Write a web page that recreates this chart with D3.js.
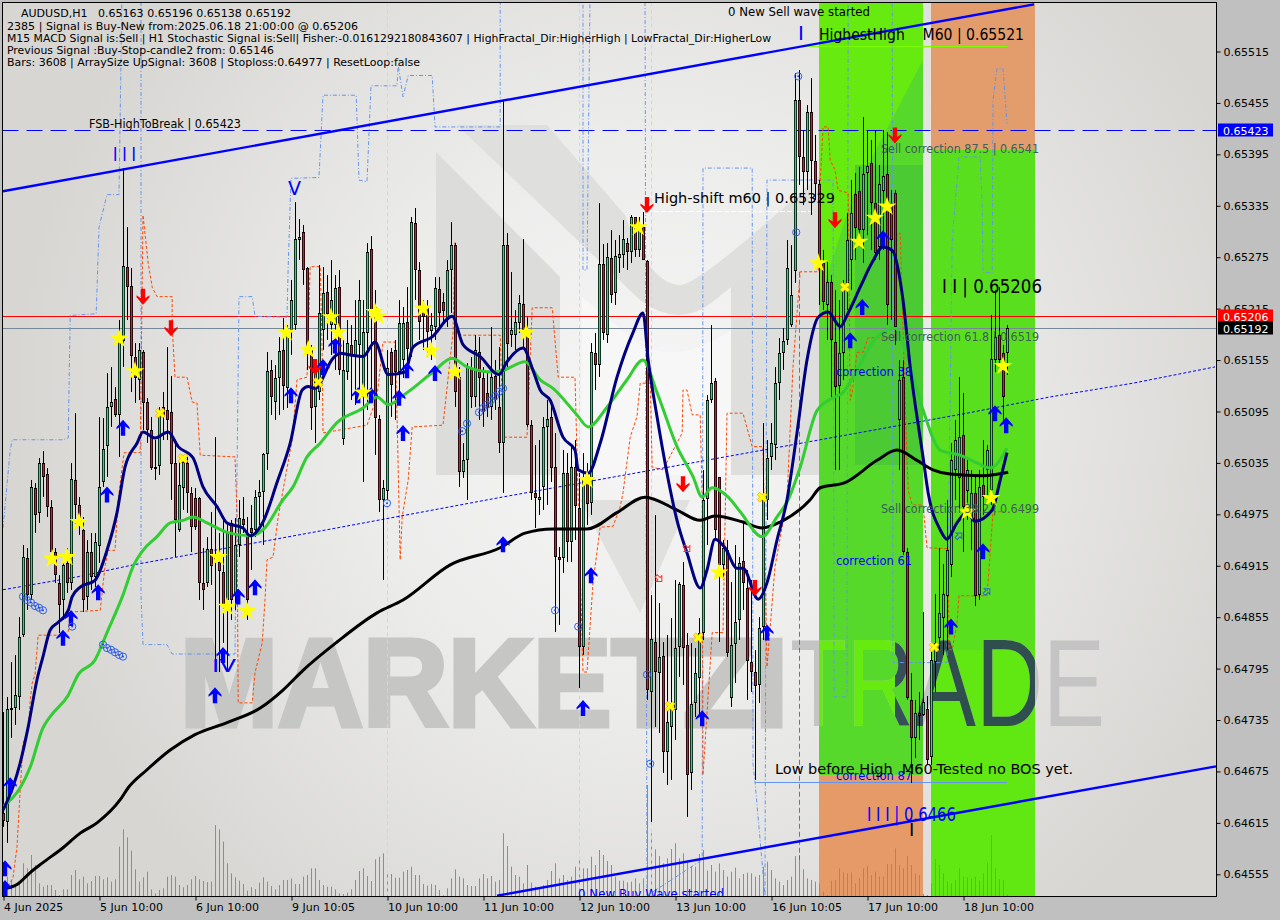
<!DOCTYPE html>
<html><head><meta charset="utf-8">
<style>html,body{margin:0;padding:0;background:#c0c0c0;overflow:hidden}svg{display:block}text{font-family:"DejaVu Sans",sans-serif;white-space:pre}</style>
<script src="https://cdn.jsdelivr.net/npm/d3@7/dist/d3.min.js"></script>
</head><body><svg id="c" width="1280" height="920"></svg>
<script>
// Hourly bars, one list per session: [open, high, low, close] in 1e-5 units of price
const session1=[[64627,64744,64610,64618],[64616,64762,64592,64748],[64747,64803,64714,64749],[64749,64811,64729,64764],[64762,64855,64747,64832],[64834,64939,64832,64925],[64924,64936,64863,64881],[64881,65015,64875,65007],[65006,65012,64953,64974],[64977,65041,64965,65035],[65035,65049,64995,65019],[65022,65029,64972,64984],[64984,64992,64928,64931],[64931,64936,64895,64904],[64895,64904,64837,64869],[64875,64922,64852,64916],[64918,64936,64883,64895],[64895,65035,64887,65016],[65015,65093,64960,64986],[64986,64995,64951,64968],[64957,64972,64861,64875],[64879,64945,64863,64931],[64931,64953,64887,64902],[64902,64953,64890,64943]];
const session2=[[64938,65089,64918,65007],[65013,65087,65007,65051],[65054,65140,65019,65100],[65100,65147,65077,65106],[65110,65124,65089,65091],[65090,65202,65042,65178],[65178,65379,65147,65265],[65264,65310,65202,65241],[65241,65262,65118,65159],[65159,65175,65105,65135],[65132,65175,65108,65167],[65164,65167,65073,65105],[65106,65111,65058,65073],[65073,65089,65027,65029],[65030,65062,65015,65029],[65031,65100,65021,65093],[65100,65118,65062,65089],[65097,65170,65062,65085],[65094,65136,64992,65033],[65035,65058,64925,64968],[64957,65038,64954,65009],[65006,65042,64980,65036],[65035,65042,64977,65000],[65000,65007,64931,64960]];
const session3=[[64994,65006,64957,64960],[64994,64995,64875,64895],[64895,64936,64863,64887],[64895,64949,64890,64935],[64935,64978,64893,64915],[64925,65065,64793,64919],[64919,64953,64791,64908],[64908,64968,64825,64869],[64875,64965,64791,64953],[64965,64968,64852,64875],[64879,64971,64863,64939],[64939,64992,64925,64971],[64970,64995,64953,64963],[64953,64972,64852,64875],[64959,64986,64910,64953],[64957,65003,64949,64995],[64995,65015,64963,65001],[65001,65046,64939,65045],[65045,65164,65027,65142],[65143,65155,65091,65111],[65106,65149,65085,65134],[65134,65182,65091,65166],[65167,65204,65097,65125],[65122,65196,65099,65190]];
const session4=[[65190,65248,65161,65225],[65196,65339,65190,65296],[65295,65320,65272,65299],[65304,65312,65243,65260],[65262,65264,65143,65167],[65167,65173,65073,65099],[65100,65155,65058,65147],[65118,65266,65108,65210],[65190,65264,65167,65233],[65234,65254,65178,65208],[65196,65272,65161,65225],[65196,65254,65143,65239],[65240,65260,65138,65143],[65062,65178,65056,65143],[65141,65202,65132,65175],[65173,65196,65108,65161],[65159,65225,65103,65178],[65173,65248,65108,65225],[65112,65225,65013,65188],[65187,65292,65097,65281],[65285,65300,65108,65213],[65217,65237,65044,65087],[65086,65091,64978,64992],[64992,65015,64898,65006]];
const session5=[[65003,65167,64992,65146],[65164,65169,65089,65126],[65167,65178,65085,65141],[65141,65225,65108,65198],[65155,65217,65134,65198],[65199,65240,65138,65167],[65167,65322,65159,65316],[65315,65332,65225,65260],[65260,65269,65178,65199],[65213,65225,65167,65205],[65216,65225,65159,65188],[65189,65210,65155,65196],[65194,65252,65178,65239],[65238,65252,65194,65210],[65223,65233,65198,65212],[65202,65272,65194,65260],[65260,65316,65210,65289],[65289,65292,65100,65117],[65135,65147,65007,65024],[65024,65058,65017,65038],[65038,65152,64992,65147],[65146,65159,65099,65112],[65112,65184,65100,65167],[65164,65182,65085,65134]];
const session6=[[65134,65147,65077,65094],[65117,65140,65089,65100],[65100,65193,65085,65135],[65136,65155,65097,65108],[65100,65170,65047,65058],[65058,65458,65000,65289],[65289,65303,65147,65173],[65184,65258,65170,65190],[65184,65213,65167,65199],[65199,65231,65187,65222],[65220,65296,65170,65190],[65190,65205,65077,65079],[65079,65085,64992,65000],[65000,65056,64959,64994],[64991,65062,64974,64995],[65007,65089,64980,65077],[65077,65108,64986,65086],[65089,65108,65013,65030],[65030,65070,64838,64925],[64925,64937,64846,64922],[64924,65050,64907,65023],[65023,65047,64919,64943],[64942,65054,64919,65030],[65030,65062,64945,64984]];
const session7=[[64982,65023,64772,64820],[64820,65047,64811,65015],[65015,65035,64963,64987],[64988,65175,64974,65164],[65163,65187,65120,65149],[65149,65338,65135,65267],[65267,65290,65178,65187],[65184,65292,65175,65275],[65274,65307,65222,65231],[65233,65295,65219,65276],[65274,65301,65257,65279],[65277,65318,65262,65296],[65292,65297,65260,65282],[65281,65324,65268,65322],[65322,65322,65275,65283],[65283,65322,65275,65310],[65310,65328,65272,65272],[65271,65272,64758,64770],[64768,64881,64616,64830],[64826,64974,64727,64791],[64790,64872,64720,64809],[64810,64826,64673,64698],[64698,64834,64659,64733],[64727,64854,64665,64749]];
const session8=[[64747,64898,64712,64819],[64820,64896,64785,64894],[64893,64919,64776,64820],[64823,64837,64622,64671],[64673,64825,64653,64754],[64755,64819,64739,64790],[64785,64854,64741,64837],[64837,65027,64828,64992],[64992,65114,64939,65108],[65108,65196,65105,65128],[65131,65134,64945,64957],[65019,65019,64826,64916],[64916,64945,64898,64936],[64933,64945,64809,64813],[64761,64896,64750,64823],[64823,64939,64778,64849],[64852,64925,64828,64918],[64921,64966,64863,64895],[64889,64910,64758,64804],[64803,64898,64768,64791],[64791,64817,64665,64775],[64775,64855,64755,64842],[64844,65082,64828,64992],[64992,65062,64968,65041]];
const session9=[[65042,65082,65027,65058],[65056,65147,65038,65128],[65128,65181,65108,65163],[65163,65192,65143,65177],[65178,65295,65173,65262],[65196,65289,65194,65231],[65258,65490,65245,65458],[65458,65493,65359,65392],[65392,65423,65336,65374],[65374,65452,65353,65444],[65444,65484,65324,65387],[65387,65418,65342,65360],[65360,65365,65219,65266],[65268,65283,65213,65223],[65219,65269,65178,65246],[65246,65254,65108,65178],[65176,65237,65027,65124],[65124,65225,65027,65163],[65163,65248,65132,65239],[65245,65326,65213,65295],[65272,65365,65237,65327],[65349,65373,65272,65309],[65352,65380,65295,65307],[65307,65438,65268,65372]];
const session10=[[65373,65423,65301,65381],[65385,65412,65283,65338],[65338,65423,65272,65280],[65287,65382,65272,65360],[65353,65423,65283,65370],[65372,65421,65196,65219],[65338,65353,65202,65295],[65350,65353,65173,65194],[65085,65155,65027,65132],[65135,65155,64928,64931],[64931,64936,64758,64761],[64758,64790,64662,64714],[64714,64758,64691,64743],[64743,64768,64712,64740],[64741,64861,64740,64756],[64748,64763,64683,64688],[64692,64814,64683,64805],[64803,64882,64768,64825],[64831,64936,64817,64860],[64854,64917,64811,64882],[64879,64992,64817,64933],[64916,65058,64902,65038],[65027,65085,64992,65062],[65017,65135,64980,65065]];
const session11=[[65068,65117,64931,64984],[65003,65038,64968,65027],[64971,65027,64933,65000],[65000,65021,64868,64880],[64881,65027,64875,65007],[65009,65062,64974,64995],[65027,65056,64992,65050],[65003,65208,64986,65156],[65155,65237,65141,65182],[65184,65240,65141,65155],[65163,65173,65082,65112],[65163,65196,65138,65192]];
// Tick volume of every bar, relative units
const volumes=[28,58,48,28,43,98,83,123,93,38,28,33,33,18,3,20,20,63,78,50,58,38,45,60,60,50,56,43,50,148,200,176,136,80,43,56,73,20,8,18,23,58,63,58,33,26,33,50,60,50,45,42,43,213,200,163,98,68,56,46,36,16,26,21,40,56,43,30,20,33,48,48,53,36,36,58,63,83,83,48,33,28,28,20,8,6,10,20,48,75,83,60,45,110,118,128,70,66,55,55,73,78,88,63,63,36,31,36,33,18,2,23,53,80,58,53,33,30,30,53,66,53,60,43,48,188,150,88,63,58,38,93,40,28,23,33,48,75,98,53,63,48,58,88,108,83,83,118,93,138,123,105,93,58,46,46,41,43,53,38,53,333,188,140,120,98,113,141,158,113,128,103,90,88,126,138,76,93,73,98,78,58,73,85,53,66,70,68,58,63,88,103,78,53,43,33,48,58,120,123,80,53,48,43,38,13,3,46,48,83,71,68,71,38,53,83,90,63,73,58,58,96,96,143,93,83,120,93,68,63,6,3,38,111,93,68,43,38,48,83,58,56,53,58,46,68,100,183,83,51,48,5];
// Moving averages read at [bar, price]
const navyMA=[[0,64630],[2.5,64657],[4.3,64685],[6.3,64727],[8.5,64782],[10,64809],[11.8,64840],[13.8,64849],[16.3,64863],[17.3,64879],[19.3,64890],[23,64898],[26,64933],[28.5,64977],[30.5,65030],[33.5,65058],[35,65071],[38,65064],[41.3,65071],[43.8,65054],[47.5,65041],[50,65007],[53.5,64984],[56,64965],[60,64959],[61.8,64950],[65,64966],[68.5,65012],[71.8,65058],[74.8,65120],[76.3,65124],[78,65122],[82.5,65157],[84.3,65163],[86.8,65161],[90,65159],[93,65176],[96.3,65138],[100.5,65141],[102.5,65170],[107.3,65182],[112.3,65206],[115,65173],[119.3,65159],[124,65138],[126,65153],[130,65169],[132.5,65143],[134.3,65120],[136.8,65108],[140,65065],[143,65050],[143.8,65027],[146.3,65023],[149.3,65058],[153.5,65135],[157.5,65187],[160,65210],[161.3,65155],[163.5,65089],[166,65023],[168.5,64968],[171,64930],[174.3,64889],[176,64910],[178,64946],[180.5,64936],[183.5,64912],[185,64912],[188.8,64876],[191,64895],[193.5,64945],[196,64992],[198.5,65070],[201,65155],[203.8,65205],[206.3,65211],[209.3,65194],[211.3,65210],[214.3,65240],[217.3,65269],[220,65287],[222.3,65283],[225,65225],[226.8,65147],[230,65042],[231.3,65000],[234.3,64957],[236,64946],[238.5,64965],[241,64977],[243,64967],[247.3,64980],[249.3,65015],[251,65047]];
const greenMA=[[0,64634],[4.3,64656],[6.8,64680],[10,64726],[11.8,64739],[16.3,64764],[18.8,64788],[23,64805],[26,64837],[30,64881],[32.5,64914],[35,64933],[38.5,64949],[41.8,64965],[45,64968],[47.5,64972],[51,64965],[56,64954],[61.8,64950],[65,64957],[70,64992],[72.5,65007],[76,65042],[79.3,65058],[83.5,65082],[90,65099],[93.5,65112],[96.3,65103],[101,65117],[107.5,65141],[112.3,65157],[116,65147],[122.5,65141],[125,65143],[130.5,65153],[134.3,65132],[137.5,65122],[143.5,65091],[146.3,65077],[151,65100],[156,65132],[160,65155],[163.5,65117],[168.5,65054],[172.5,65019],[174.8,64995],[177.3,65006],[181.3,64995],[184.3,64978],[189.8,64949],[193.5,64972],[196.3,64992],[199.3,65030],[203.5,65096],[207.5,65111],[210,65117],[212.5,65135],[218.5,65182],[223,65192],[226.8,65147],[230,65097],[234.3,65050],[239.3,65044],[243.5,65035],[246.8,65029],[251,65052]];
const blackMA=[[0,64538],[3.5,64543],[6.8,64557],[9.8,64568],[15,64586],[19.3,64603],[23.5,64615],[29.3,64642],[31.3,64656],[36,64677],[41.8,64700],[48,64718],[56,64732],[64.3,64749],[70,64770],[75,64793],[83.5,64826],[93.5,64860],[100,64875],[111.8,64916],[124.3,64936],[130.5,64953],[137.5,64958],[146,64958],[153.5,64977],[160.5,64995],[168.5,64980],[174.3,64968],[178,64973],[185,64966],[189.8,64959],[194.3,64966],[201.8,64992],[204.3,65006],[210.5,65012],[218.5,65038],[223.5,65050],[228.5,65038],[232.5,65027],[236.8,65022],[245,65020],[251.3,65024]];
const dottedMA=[[0,64887],[18.5,64902],[32.5,64916],[57.5,64937],[81,64957],[104,64977],[123.5,64994],[204.3,65062],[241,65093],[261.8,65112],[282.5,65128],[303,65147]];
// Stepped envelopes read at [bar, price]
const blueEnvelope=[[0,64959],[1.8,65050],[2.3,65062],[15,65062],[16.3,65064],[16.8,65207],[23.3,65209],[24,65310],[26,65348],[29,65348],[29.8,65600],[34.5,65600],[34.5,64881],[35,64823],[41,64823],[42.3,64812],[58,64812],[59,65229],[62.3,65229],[63,65206],[71,65205],[71.3,65264],[72,65367],[79,65368],[80,65464],[88.3,65464],[89,65365],[91,65363],[92,65475],[98.5,65475],[98.8,65499],[100,65462],[101.3,65487],[107.3,65487],[108,65427],[124.3,65427],[124.3,65600],[145,65600],[145,65260],[146,65260],[146.8,65600],[160.5,65600],[161,64530],[174.8,64572],[175,65379],[187.3,65379],[187.5,64683],[188,64663],[190.5,64530],[191,65365],[207.5,65365],[207.8,64762],[211,64762],[211.3,65600],[222.3,65600],[222.5,64802],[236,64802],[236.3,64933],[237.3,65295],[239,65392],[244.3,65392],[244.8,65334],[245,65257],[247.3,65257],[247.5,65458],[248.5,65495],[250,65495],[251,65431]];
const orangeEnvelope=[[0,64531],[2.5,64551],[3.5,64587],[4.3,64653],[5,64708],[6.3,64723],[6.8,64758],[7.3,64778],[8,64788],[8.8,64834],[14.3,64834],[16.3,64838],[16.8,64861],[24.3,64863],[25.5,64914],[26.3,64933],[28,64933],[28.8,64992],[29.8,65030],[30.3,65047],[34.3,65047],[35,65324],[36.3,65268],[37.3,65240],[38.5,65229],[42.3,65229],[42.3,65194],[43,65135],[46,65135],[47.3,65106],[48.5,65105],[49.3,65044],[58,65042],[58.5,64977],[58.8,64755],[62.3,64755],[63,64790],[64.8,64825],[65.5,64875],[66,64922],[67.5,64925],[68.8,64972],[72.3,65062],[73.5,65132],[76,65135],[76.8,65264],[79.3,65264],[79.8,65161],[80,65070],[91,65079],[93.5,65112],[95,65176],[98,65176],[98.5,65093],[99.3,64922],[99.8,64972],[101.3,65015],[102.3,65077],[110,65079],[112.5,65187],[113,65292],[113.2,65187],[114.8,65184],[124.3,65184],[124.8,65108],[125,65065],[131,65065],[132.3,65216],[137.3,65216],[138.8,65135],[143,65135],[143.8,64992],[145,64791],[146,64791],[147.5,64895],[149.3,64960],[152.5,64961],[154.3,64984],[155,65000],[156.8,65065],[158.5,65089],[159.3,65128],[161.8,65128],[162.3,65030],[165,65027],[169.8,65070],[170,65120],[171,65120],[172.3,65091],[174.3,65091],[174.8,64992],[175,64671],[177.3,64837],[180,64837],[180.5,64960],[181,65093],[185,65093],[187.3,65054],[190,65054],[191,64797],[193,64914],[196,64992],[197.5,65147],[199.3,65258],[203.8,65258],[204.3,65362],[205,65427],[206.3,65427],[206.8,65388],[208,65377],[208.8,65353],[211.3,65350],[211.8,65108],[212.3,65117],[213.5,65164],[215,65164],[216.3,65181],[223,65181],[223.5,65303],[224.3,65303],[226,65038],[226.3,65003],[227.3,64986],[230,64986],[231,64936],[236.3,64935],[236.5,64817],[237.3,64817],[238.5,64848],[239,64880],[246,64880],[246.8,64930],[247.5,64978],[251,64978]];
// Channel lines and levels
const upperChannel=[[0,65352],[257.75,65570]];
const lowerChannel=[[123.5,64530],[303.25,64681]];
const levelBreak=65423, levelSignal=65206, levelLast=65192, levelShift=65329, levelHigh=65521, levelLow=64663;
// Markers
const upArrows=[[0.5,64562],[0.5,64539],[1.8,64659],[15,64831],[17,64854],[23.8,64884],[26,64998],[30,65076],[53,64764],[55,64811],[58.8,64879],[63,64890],[72,65114],[83,65172],[80,65147],[88.8,65114],[92,65114],[99,65111],[100,65070],[101,65143],[108,65140],[125,64940],[147,64904],[145,64749],[174.8,64737],[191,64837],[211.8,65178],[214.8,65217],[220,65297],[250.8,65079],[248,65093],[237,64844],[245,64932]];
const downArrows=[[35,65229],[42,65192],[78,65147],[161,65336],[170,65010],[188,64889],[208,65318],[223,65417]];
const bigStars=[[29,65180],[33,65142],[19,64966],[12.3,64923],[16,64925],[53.8,64925],[56,64867],[61,64862],[70.8,65187],[76.3,65167],[82,65205],[83.8,65187],[90,65117],[93,65211],[93.8,65206],[105,65215],[107,65166],[113,65141],[130.8,65187],[146,65015],[158.8,65310],[179,64907],[203.8,65268],[214,65293],[218,65321],[221,65334],[250,65148],[241,64978],[247,64994]];
const crossMarks=[[39.3,65093],[45,65040],[78.8,65129],[166.8,64751],[173.8,64831],[189.8,64995],[210.5,65240],[232.8,64820]];
const rings=[[5,64879],[6,64875],[7,64872],[8,64868],[9,64866],[10,64863],[25,64823],[26,64819],[27,64817],[28,64814],[29,64811],[30,64809],[17.3,64844],[114.8,65072],[116,65081],[119,65094],[120,65099],[121,65103],[122,65108],[123,65113],[124,65118],[125,65122],[96,64988],[138,64863],[143.8,64844],[161,64788],[161.8,64684],[198.3,65304],[198.8,65486]];
const hollowDown=[[164,64900],[171,64935]];
const hollowUp=[[239,64950],[246,64885]];
const paleVerticals=[96,144,162];
// Axes
const priceTicks=[0.65515,0.65455,0.65395,0.65335,0.65275,0.65215,0.65155,0.65095,0.65035,0.64975,0.64915,0.64855,0.64795,0.64735,0.64675,0.64615,0.64555];
const timeTickBars=[0,24,48,72,96,120,144,168,192,216,240];
const timeTickLabels=["4 Jun 2025","5 Jun 10:00","6 Jun 10:00","9 Jun 10:05","10 Jun 10:00","11 Jun 10:00","12 Jun 10:00","13 Jun 10:00","16 Jun 10:05","17 Jun 10:00","18 Jun 10:00"];
// Session zones: [first bar, last bar] and the price where the colour changes
const zoneBars=[[204,230],[232,258]];
const zoneSplit=[64670,65401];
const headerLines=["2385 | Signal is Buy-New from:2025.06.18 21:00:00 @ 0.65206","M15 MACD Signal is:Sell | H1 Stochastic Signal is:Sell| Fisher:-0.0161292180843607 | HighFractal_Dir:HigherHigh | LowFractal_Dir:HigherLow","Previous Signal :Buy-Stop-candle2 from: 0.65146","Bars: 3608 | ArraySize UpSignal: 3608 | Stoploss:0.64977 | ResetLoop:false"];

const candles=[].concat(session1,session2,session3,session4,session5,session6,session7,session8,session9,session10,session11);
const W=1280,H=920,L=2.5,T=2.5,R=1216.5,B=896.5;
const x=d3.scaleLinear().domain([0,1]).range([3,7]);
const y=d3.scaleLinear().domain([0.65515,0.64555]).range([51.5,874.3]);
const py=p=>y(p/1e5);
const vy=d3.scaleLinear().domain([0,333]).range([896,785]);
const svg=d3.select("#c");
const defs=svg.append("defs");
const rg=defs.append("radialGradient").attr("id","bg").attr("gradientUnits","userSpaceOnUse").attr("cx",650).attr("cy",420).attr("r",640);
rg.append("stop").attr("offset",0).attr("stop-color","#f6f6f6");
rg.append("stop").attr("offset",.45).attr("stop-color","#ececeb");
rg.append("stop").attr("offset",1).attr("stop-color","#d7d6d3");
defs.append("clipPath").attr("id","panel").append("rect").attr("x",L).attr("y",T).attr("width",R-L).attr("height",B-T);
defs.append("clipPath").attr("id","tradeR").append("rect").attr("x",x(232)).attr("y",0).attr("width",104).attr("height",H);
defs.append("clipPath").attr("id","tradeL").append("rect").attr("x",x(204)).attr("y",0).attr("width",76).attr("height",H);
defs.append("clipPath").attr("id","tradeM").append("rect").attr("x",x(204)+76).attr("y",0).attr("width",28).attr("height",H);

svg.append("rect").attr("width",W).attr("height",H).attr("fill","#c0c0c0");
const g=svg.append("g").attr("clip-path","url(#panel)");
g.append("rect").attr("x",L).attr("y",T).attr("width",R-L).attr("height",B-T).attr("fill","url(#bg)");

// watermark logo
const logoShapes=[
 ["M436,152L560,277L560,475L436,475Z","#dcdcda"],
 ["M731,277L820,190L820,475L731,475Z","#dededc"],
 ["M457,125L547,125L625,215Q650,285 680,285Q700,285 820,175L820,215L715,300Q680,330 640,300Z","#dfdfdd"],
 ["M580,500L640,613L690,500Z","#e0e0de"],
 ["M582,297L640,345Q680,365 731,330L731,475L582,475Z","#f7f7f7"]
];
g.selectAll("path.logo").data(logoShapes).join("path").attr("d",d=>d[0]).attr("fill",d=>d[1]);
// watermark wordmark
const wm=(t,xx,len,w,fill,clip,thick)=>{const e=g.append("text").attr("x",xx).attr("y",726).attr("font-size",125).style("font-family","'Liberation Sans',sans-serif").attr("font-weight",w).attr("fill",fill).attr("textLength",len).attr("lengthAdjust","spacingAndGlyphs").text(t);if(clip)e.attr("clip-path",clip);if(thick)e.attr("stroke",fill).attr("stroke-width",thick);};
wm("MARKETZI",180,608,"bold","#c6c6c4",null,5);

// zones
zoneBars.forEach((z,k)=>{
 const x0=x(z[0]),x1=x(z[1])+0;
 if(k===0){
  g.append("rect").attr("x",x0).attr("y",T).attr("width",x1-x0).attr("height",py(zoneSplit[0])-T).attr("fill","#56d92a");
  g.append("path").attr("d",`M${x0},${T}L${x1},${T}L${x1},60L${x0+36},190L${x0},300Z`).attr("fill","#66ea0f");
  g.append("rect").attr("x",x0+36).attr("y",165).attr("width",x1-x0-36).attr("height",300).attr("fill","#4bca34");
  g.append("rect").attr("x",x0).attr("y",py(zoneSplit[0])).attr("width",x1-x0).attr("height",B-py(zoneSplit[0])).attr("fill","#e59a68");
 } else {
  g.append("rect").attr("x",x0).attr("y",T).attr("width",x1-x0).attr("height",py(zoneSplit[1])-T).attr("fill","#e39c6b");
  g.append("rect").attr("x",x0).attr("y",py(zoneSplit[1])).attr("width",x1-x0).attr("height",B-py(zoneSplit[1])).attr("fill","#5adf1e");
  g.append("rect").attr("x",x0).attr("y",650).attr("width",x1-x0).attr("height",B-650).attr("fill","#61e812");
 }
});
wm("TRADE",790,315,"normal","#c4c4c4");
wm("TRADE",790,315,"normal","#66ea0f","url(#tradeL)");
wm("TRADE",790,315,"normal","#36505a","url(#tradeM)");
wm("TRADE",790,315,"normal","#2f4f4f","url(#tradeR)");

// volumes
g.selectAll("line.vol").data(volumes).join("line").attr("x1",(d,i)=>x(i)+.5).attr("x2",(d,i)=>x(i)+.5).attr("y1",896).attr("y2",d=>vy(d)).attr("stroke","#4fb84f").attr("stroke-width",1);

// pale verticals and crimson line
g.selectAll("line.pale").data(paleVerticals).join("line").attr("x1",d=>x(d)+.5).attr("x2",d=>x(d)+.5).attr("y1",T).attr("y2",B).attr("stroke","#bfdede").attr("stroke-dasharray","4 3");
g.append("line").attr("x1",x(199)+.5).attr("x2",x(199)+.5).attr("y1",py(65258)).attr("y2",py(64572)).attr("stroke","#c8304a").attr("stroke-dasharray","5 3").attr("stroke-opacity",.85);

// levels
const hline=(p,c,dash,x0,x1,w)=>g.append("line").attr("x1",x0).attr("x2",x1).attr("y1",Math.round(py(p))+.5).attr("y2",Math.round(py(p))+.5).attr("stroke",c).attr("stroke-width",w||1).attr("stroke-dasharray",dash||null);
hline(levelBreak,"#0000ff","16 8",L,R);
hline(levelSignal,"#ff0000",null,L,R);
hline(levelLast,"#778899",null,L,R);
hline(levelShift,"#ffffff","5 2",x(161),x(203));
hline(levelHigh,"#7cfc00",null,x(199),x(251));
hline(levelLow,"#6495ed",null,x(188),x(251));

const stepLine=d3.line().x(d=>x(d[0])).y(d=>py(d[1]));
const smooth=d3.line().x(d=>x(d[0])).y(d=>py(d[1])).curve(d3.curveMonotoneX);
const drawPath=(data,gen,c,w,dash)=>g.append("path").datum(data).attr("d",gen).attr("fill","none").attr("stroke",c).attr("stroke-width",w).attr("stroke-dasharray",dash||null).attr("stroke-linejoin","round");
drawPath(blueEnvelope,stepLine,"#6495ed",1,"4 2 1 2");
drawPath(orangeEnvelope,stepLine,"#ff4500",1,"3 2");
drawPath(dottedMA,stepLine,"#0000ff",1,"3 2");

// candles
const bar=g.append("g").selectAll("g").data(candles).join("g");
bar.append("line").attr("x1",(d,i)=>x(i)+.5).attr("x2",(d,i)=>x(i)+.5).attr("y1",d=>Math.round(py(d[1]))).attr("y2",d=>Math.round(py(d[2]))).attr("stroke","#000");
bar.append("rect").attr("x",(d,i)=>x(i)-1).attr("width",3).attr("y",d=>Math.round(py(Math.max(d[0],d[3])))).attr("height",d=>Math.max(2,Math.round(Math.abs(py(d[0])-py(d[3]))))).attr("fill","#000");
bar.append("rect").attr("x",(d,i)=>x(i)-.25).attr("width",1.5).attr("y",d=>Math.round(py(Math.max(d[0],d[3])))+1).attr("height",d=>Math.max(0,Math.round(Math.abs(py(d[0])-py(d[3])))-2)).attr("fill",d=>d[3]>=d[0]?"#2fd587":"#c8203c");

// channels
drawPath(upperChannel,stepLine,"#0000ff",2.4);
drawPath(lowerChannel,stepLine,"#0000ff",2.4);
// MAs
drawPath(blackMA,smooth,"#000000",3);
drawPath(greenMA,smooth,"#32cd32",3);
drawPath(navyMA,smooth,"#000080",3);

// markers
const arrowD="M0,-8L6.5,-0.5L6.5,1.5L2.2,-1.5L2.2,8L-2.2,8L-2.2,-1.5L-6.5,1.5L-6.5,-0.5Z";
g.selectAll("path.up").data(upArrows).join("path").attr("d",arrowD).attr("fill","#0000ff").attr("transform",d=>`translate(${x(d[0])},${py(d[1])})`);
g.selectAll("path.dn").data(downArrows).join("path").attr("d",arrowD).attr("fill","#ff0000").attr("transform",d=>`translate(${x(d[0])},${py(d[1])}) scale(1,-1)`);
const hollow="M0,-4L4,0L1.5,0L1.5,4L-1.5,4L-1.5,0L-4,0Z";
g.selectAll("path.hd").data(hollowDown).join("path").attr("d",hollow).attr("fill","none").attr("stroke","#ff3020").attr("transform",d=>`translate(${x(d[0])},${py(d[1])}) rotate(135)`);
g.selectAll("path.hu").data(hollowUp).join("path").attr("d",hollow).attr("fill","none").attr("stroke","#3060e0").attr("transform",d=>`translate(${x(d[0])},${py(d[1])}) rotate(45)`);
const rg2=g.selectAll("g.r").data(rings).join("g").attr("transform",d=>`translate(${x(d[0])},${py(d[1])})`);
rg2.append("circle").attr("r",3.6).attr("fill","none").attr("stroke","#2a5ff0");
rg2.append("circle").attr("r",1).attr("fill","#2040e0");
const star=d3.symbol().type(d3.symbolStar).size(110)();
g.selectAll("path.s").data(bigStars).join("path").attr("d",star).attr("fill","#ffff00").attr("transform",d=>`translate(${x(d[0])},${py(d[1])})`);
const cross=d3.symbol().type(d3.symbolCross).size(60)();
g.selectAll("path.x").data(crossMarks).join("path").attr("d",cross).attr("fill","#ffff00").attr("stroke","#f0a020").attr("stroke-width",.7).attr("transform",d=>`translate(${x(d[0])},${py(d[1])}) rotate(45)`);

// axes
const rightAxis=d3.axisRight(y).tickValues(priceTicks).tickFormat(d3.format(".5f")).tickSize(4).tickPadding(3);
const ag=svg.append("g").attr("transform",`translate(${R},0)`).call(rightAxis);
ag.select(".domain").remove();
ag.selectAll("text").attr("font-size",11).attr("fill","#000").style("font-family","'DejaVu Sans',sans-serif");
ag.selectAll("line").attr("stroke","#000");
const bottomAxis=d3.axisBottom(x).tickValues(timeTickBars).tickFormat((d,i)=>timeTickLabels[i]).tickSize(4).tickPadding(3);
const bg=svg.append("g").attr("transform",`translate(0.5,${B})`).call(bottomAxis);
bg.select(".domain").remove();
bg.selectAll("text").attr("text-anchor","start").attr("font-size",11).attr("fill","#000").style("font-family","'DejaVu Sans',sans-serif");
bg.selectAll("line").attr("stroke","#000");
svg.append("rect").attr("x",L).attr("y",T).attr("width",R-L).attr("height",B-T).attr("fill","none").attr("stroke","#000").attr("stroke-width",1);

// price tags
const tag=(p,bgc,fg)=>{const yy=py(p);svg.append("rect").attr("x",1218).attr("y",Math.round(yy)-6.5).attr("width",55).attr("height",13).attr("fill",bgc);
 svg.append("text").attr("x",1223).attr("y",Math.round(yy)+4.5).attr("font-size",11).attr("fill",fg).text((p/1e5).toFixed(5));};
tag(levelBreak,"#0000ff","#fff");tag(levelSignal,"#ff0000","#fff");tag(levelLast,"#000","#fff");

// text
const tx=(t,xx,yy,fs,c,len,clip)=>{const e=(clip?g:svg).append("text").attr("x",xx).attr("y",yy).attr("font-size",fs).attr("fill",c).text(t);if(len)e.attr("textLength",len).attr("lengthAdjust","spacingAndGlyphs");return e;};
tx("AUDUSD,H1   0.65163 0.65196 0.65138 0.65192",21,17,11,"#000",270);
headerLines.forEach((t,i)=>tx(t,7,30+i*12,11,"#000",[351,764,267,413][i]));
tx("0 New Sell wave started",728,16,12,"#000",142);
tx("FSB-HighToBreak | 0.65423",89,128,11.5,"#000",152);
tx("I",798,40,20,"#0000ff");
tx("HighestHigh    M60 | 0.65521",819,40,16,"#000",205);
tx("I I I",113,161,19,"#0000ff",23);
tx("V",288,195,19,"#0000ff");
tx("IV",212,672,18,"#0000ff",24);
tx("High-shift m60 | 0.65329",654,203,14.5,"#000",181);
tx("Sell correction 87.5 | 0.6541",881,153,12,"#3c5f58",158);
tx("Sell correction 61.8 | 0.6519",881,341,12,"#3c5f58",158);
tx("Sell correction 38.2 | 0.6499",881,513,12,"#3c5f58",158);
tx("correction 38",836,376,12,"#0000ff",76);
tx("correction 61",836,565,12,"#0000ff",76);
tx("correction 87",836,780,12,"#0000ff",76);
tx("I I | 0.65206",942,293,20,"#000",100);
tx("I I I | 0.6466",867,821,19,"#0000ff",89);
tx("Low before High  M60-Tested no BOS yet.",775,774,14.5,"#000",298);
tx("I",909,836,18,"#000");
tx("0 New Buy Wave started",578,898,12,"#0000ff",146,true);
</script></body></html>
